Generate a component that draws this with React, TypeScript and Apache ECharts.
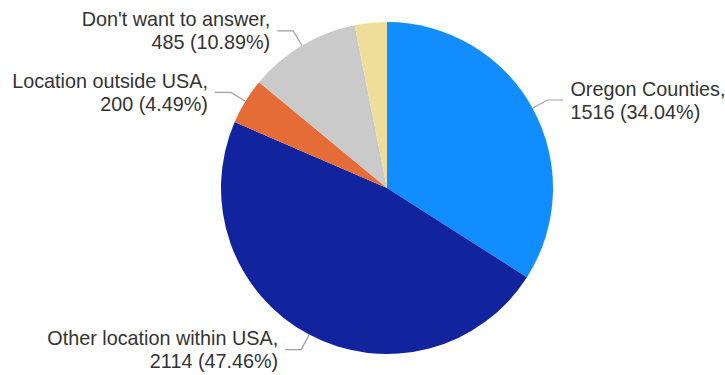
import React, { useEffect, useRef } from "react";
import * as echarts from "echarts";

const categories = [
  "Oregon Counties",
  "Other location within USA",
  "Location outside USA",
  "Don't want to answer",
  "Other",
];
const values = [1516, 2114, 200, 485, 139];
const percents = ["34.04%", "47.46%", "4.49%", "10.89%", "3.12%"];
const showLabel = [true, true, true, true, false];
const colors = ["#118DFF", "#12239E", "#E66C37", "#CACACA", "#EEDE9A"];

export default function App() {
  const ref = useRef<HTMLDivElement>(null);
  useEffect(() => {
    if (!ref.current) return;
    const chart = echarts.init(ref.current, undefined, { renderer: "svg" });
    const data = categories.map((name, i) => ({
      name,
      value: values[i],
      itemStyle: { color: colors[i] },
      label: { show: showLabel[i] },
      labelLine: { show: showLabel[i] },
    }));
    chart.setOption({
      animation: false,
      series: [
        {
          type: "pie",
          center: [387, 188],
          radius: 166,
          startAngle: 90,
          clockwise: true,
          avoidLabelOverlap: false,
          data,
          label: {
            show: true,
            position: "outside",
            fontFamily: "Liberation Sans, Arial, sans-serif",
            fontSize: 19.8,
            lineHeight: 23,
            color: "#333333",
            distanceToLabelLine: 7,
            formatter: (p: any) =>
              `${p.name},\n${values[p.dataIndex]} (${percents[p.dataIndex]})`,
          },
          labelLine: {
            show: true,
            length: 17,
            length2: 16,
            lineStyle: { color: "#A0A0A0", width: 1.2 },
          },
          emphasis: { disabled: true },
        },
      ],
    });
    return () => chart.dispose();
  }, []);
  return (
    <div
      ref={ref}
      style={{ position: "fixed", left: 0, top: 0, width: 725, height: 375, background: "#fff" }}
    />
  );
}
